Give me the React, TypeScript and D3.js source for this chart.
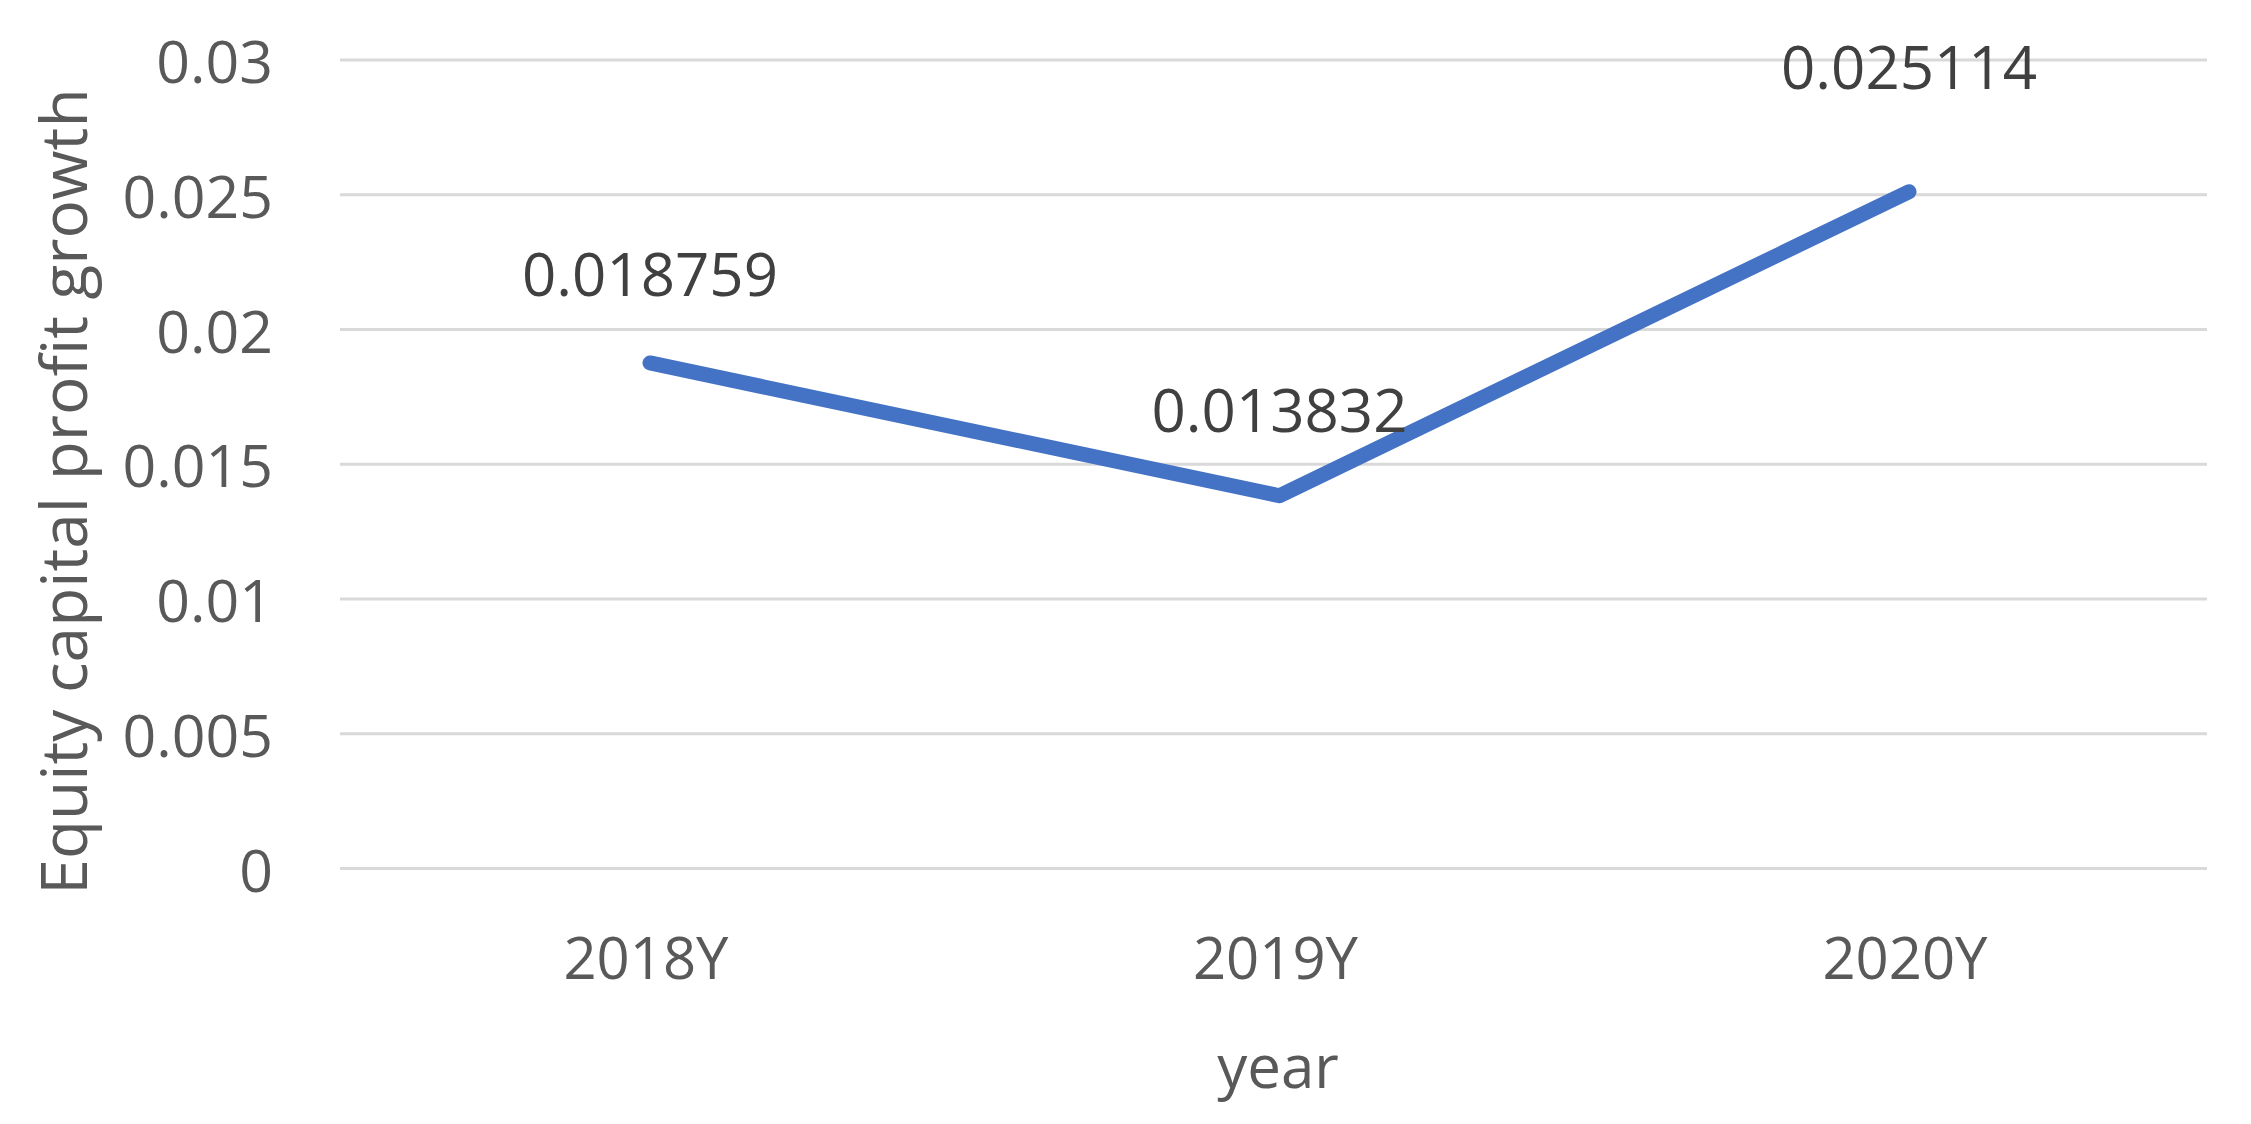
import React from "react";
import * as d3 from "d3";

const categories = ["2018Y", "2019Y", "2020Y"];
const values = [0.018759, 0.013832, 0.025114];
const valueLabels = ["0.018759", "0.013832", "0.025114"];
const yTicks = [0, 0.005, 0.01, 0.015, 0.02, 0.025, 0.03];
const yTickLabels = ["0", "0.005", "0.01", "0.015", "0.02", "0.025", "0.03"];
const yTitle = "Equity capital profit growth";
const xTitle = "year";

const W = 2251;
const H = 1124;
const left = 340;
const right = 2207;
const top = 60;
const bottom = 868.5;
const FONT = "'Open Sans', 'Noto Sans', sans-serif";

export default function App() {
  const x = d3.scalePoint<string>().domain(categories).range([650, 1909]);
  const cx = (c: string) => x(c) as number;
  const y = d3.scaleLinear().domain([0, 0.03]).range([bottom, top]);
  const line = d3
    .line<number>()
    .x((_, i) => cx(categories[i]))
    .y((d) => y(d));
  const lift = [90, 87, 126];

  return (
    <svg width={W} height={H} style={{ position: "absolute", left: 0, top: 0, background: "#fff" }}>
      <rect x={0} y={0} width={W} height={H} fill="#fff" />
      {yTicks.map((t, i) => (
        <g key={i}>
          <line x1={left} x2={right} y1={y(t)} y2={y(t)} stroke="#d9d9d9" strokeWidth={3} />
          <text
            x={273}
            y={y(t)}
            textAnchor="end"
            dominantBaseline="central"
            fontFamily={FONT}
            fontSize={59}
            fill="#595959"
          >
            {yTickLabels[i]}
          </text>
        </g>
      ))}
      {categories.map((c) => (
        <text
          key={c}
          x={cx(c) - 4}
          y={956}
          textAnchor="middle"
          dominantBaseline="central"
          fontFamily={FONT}
          fontSize={58}
          fill="#595959"
        >
          {c}
        </text>
      ))}
      <path
        d={line(values) || ""}
        fill="none"
        stroke="#4472C4"
        strokeWidth={15}
        strokeLinecap="round"
        strokeLinejoin="round"
      />
      {values.map((v, i) => (
        <text
          key={i}
          x={cx(categories[i])}
          y={y(v) - lift[i]}
          textAnchor="middle"
          dominantBaseline="central"
          fontFamily={FONT}
          fontSize={60}
          fill="#404040"
        >
          {valueLabels[i]}
        </text>
      ))}
      <text
        x={1278}
        y={1065}
        textAnchor="middle"
        dominantBaseline="central"
        fontFamily={FONT}
        fontSize={60}
        fill="#595959"
      >
        {xTitle}
      </text>
      <text
        transform={`translate(62, ${(86 + 897) / 2}) rotate(-90)`}
        textAnchor="middle"
        dominantBaseline="central"
        fontFamily={FONT}
        fontSize={64}
        fill="#595959"
      >
        {yTitle}
      </text>
    </svg>
  );
}
